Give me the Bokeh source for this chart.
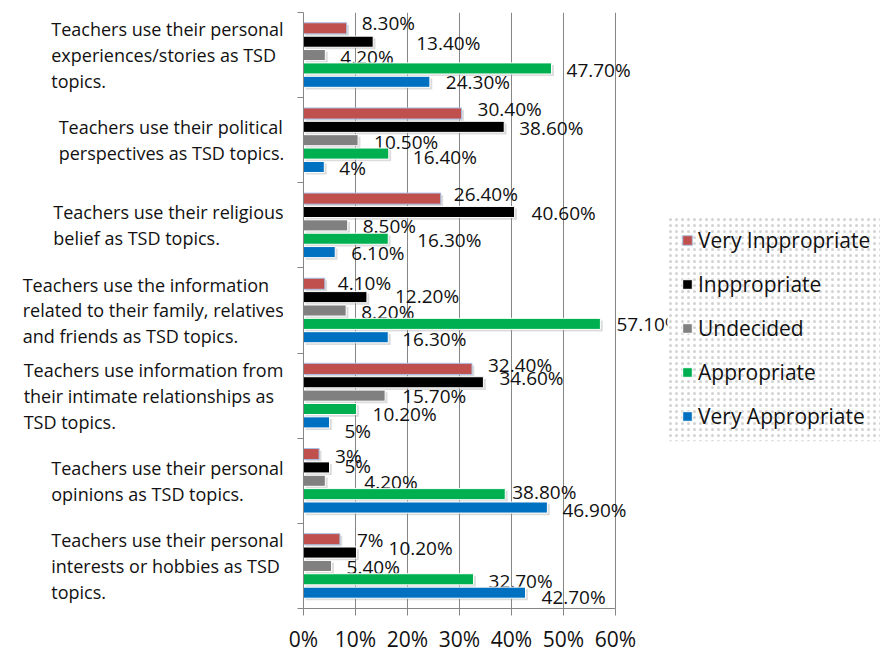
from bokeh.plotting import figure
from bokeh.layouts import row
from bokeh.models import (ColumnDataSource, FixedTicker, PrintfTickFormatter, Legend,
                          LegendItem, BoxAnnotation, Range1d)
from bokeh.transform import dodge
from bokeh.core.properties import value
from bokeh.embed import file_html
from bokeh.resources import INLINE

# ---------------- data ----------------
categories = [
    "Teachers use their personal\nexperiences/stories as TSD\ntopics.",
    "Teachers use their political\nperspectives as TSD topics.",
    "Teachers use their religious\nbelief as TSD topics.",
    "Teachers use the information\nrelated to their family, relatives\nand friends as TSD topics.",
    "Teachers use information from\ntheir intimate relationships as\nTSD topics.",
    "Teachers use their personal\nopinions as TSD topics.",
    "Teachers use their personal\ninterests or hobbies as TSD\ntopics.",
]
series_names = ["Very Inppropriate", "Inppropriate", "Undecided", "Appropriate", "Very Appropriate"]
very_inappropriate = [8.3, 30.4, 26.4, 4.1, 32.4, 3, 7]
inappropriate = [13.4, 38.6, 40.6, 12.2, 34.6, 5, 10.2]
undecided = [4.2, 10.5, 8.5, 8.2, 15.7, 4.2, 5.4]
appropriate = [47.7, 16.4, 16.3, 57.1, 10.2, 38.8, 32.7]
very_appropriate = [24.3, 4, 6.1, 16.3, 5, 46.9, 42.7]
x_ticks = [0, 10, 20, 30, 40, 50, 60]

series_values = [very_inappropriate, inappropriate, undecided, appropriate, very_appropriate]

# ---------------- styling ----------------
colors = ["#C0504D", "#000000", "#808080", "#00B050", "#0070C0"]
outline = ["#A9C1E4", "white", "white", "white", "white"]
# data-label nudges in screen px (as the labels were placed in the original chart)
label_dx = [[15, 16, 13, 13, 16, 16, 17],
            [43, 15, 17, 28, 16, 15, 32],
            [15, 16, 15, 15, 17, 39, 15],
            [15, 24, 29, 16, 16, 7, 15],
            [16, 15, 16, 14, 15, 15, 16]]
label_dy = [[-5, -4, -4.5, -1, -4, 1.5, 1],
            [1, 1, 1.5, -1, -4, -1, -5],
            [2, 1.5, 1, 1, 0, 1.5, 1],
            [1.5, 3, 1.7, 0.5, 5, -2.5, 1.5],
            [0.5, 1.5, 0.5, 2, 9, 2, 4.5]]

FONT = "Open Sans"
n = len(categories)
PX_PER_UNIT = 5.2          # 52 px per 10 %
FRAME_W = 577
FRAME_H = 596
TOP = 12
LABEL_W = 283              # width of the category-label column
CAT_SIZE = 18              # px

# approximate Open Sans advance widths (units per em = 2048), used to left-align
# the lines of each category label inside a right-aligned block
ADV = {" ": 532, "a": 1139, "b": 1255, "c": 975, "d": 1255, "e": 1149, "f": 694,
       "g": 1122, "h": 1257, "i": 518, "l": 518, "m": 1905, "n": 1257, "o": 1237,
       "p": 1255, "r": 836, "s": 977, "t": 723, "u": 1257, "v": 1026, "w": 1593,
       "x": 1073, "y": 1028, "T": 1112, "S": 1094, "D": 1442, ",": 497, ".": 545, "/": 752}

def text_width(s, size):
    return sum(ADV.get(ch, 1150) for ch in s) / 2048 * size

def fmt(v):
    return f"{int(v)}%" if float(v).is_integer() else f"{v:.2f}%"

y_range = Range1d(0, n)
centers = [n - 0.5 - i for i in range(n)]

# ---------------- category label column ----------------
left = figure(frame_width=LABEL_W, frame_height=FRAME_H, output_backend="svg",
              toolbar_location=None, x_range=Range1d(0, LABEL_W), y_range=y_range,
              min_border_left=0, min_border_right=0, min_border_top=TOP, min_border_bottom=45,
              x_axis_type=None, y_axis_type=None)
left.outline_line_color = None
left.grid.visible = False
block_left = [LABEL_W - max(text_width(line, CAT_SIZE) for line in cat.split("\n")) for cat in categories]
left.text(x=block_left, y=centers, text=categories, text_align="left", text_baseline="middle",
          text_font=value(FONT), text_font_size=f"{CAT_SIZE}px", text_line_height=1.08,
          text_color="#111111")

# ---------------- main chart ----------------
p = figure(frame_width=FRAME_W, frame_height=FRAME_H, output_backend="svg", toolbar_location=None,
           x_range=Range1d(0, FRAME_W / PX_PER_UNIT), y_range=y_range,
           min_border_left=20, min_border_right=0, min_border_top=TOP, min_border_bottom=0)
p.outline_line_color = None
p.background_fill_color = "white"
p.border_fill_color = "white"

bar_h = 0.13
pitch = 0.157
items = []
for k, (name, vals) in enumerate(zip(series_names, series_values)):
    ys = [c + (2 - k) * pitch for c in centers]
    src = ColumnDataSource(dict(y=ys, v=vals, lab=[fmt(v) for v in vals],
                                dx=label_dx[k], dy=label_dy[k]))
    # soft shadow
    p.hbar(y=dodge("y", -0.025), left=0.4, right=dodge("v", 0.45), height=bar_h, source=src,
           fill_color="#9a9a9a", fill_alpha=0.35, line_color=None)
    r = p.hbar(y="y", left=0, right="v", height=bar_h, source=src,
               fill_color=colors[k], line_color=outline[k], line_width=1)
    p.text(x="v", y="y", text="lab", source=src, x_offset="dx", y_offset="dy",
           text_baseline="middle", text_align="left", text_font=value(FONT),
           text_font_size="19px", text_color="#111111")
    items.append(LegendItem(label=name, renderers=[r]))

# x axis
p.xaxis.ticker = FixedTicker(ticks=x_ticks)
p.xaxis.bounds = (0, 60)
p.xaxis.formatter = PrintfTickFormatter(format="%d%%")
p.xaxis.major_tick_out = 7
p.xaxis.major_tick_in = 0
p.xaxis.minor_tick_line_color = None
p.xaxis.axis_line_color = "#868686"
p.xaxis.major_tick_line_color = "#868686"
p.xaxis.major_label_text_font = FONT
p.xaxis.major_label_text_font_size = "21px"
p.xaxis.major_label_text_color = "#111111"
p.xaxis.major_label_standoff = 9

# y axis: only tick marks at the group boundaries
p.yaxis.ticker = FixedTicker(ticks=[], minor_ticks=list(range(n + 1)))
p.yaxis.minor_tick_out = 6
p.yaxis.minor_tick_in = 0
p.yaxis.axis_line_color = "#868686"
p.yaxis.minor_tick_line_color = "#868686"

p.xgrid.ticker = FixedTicker(ticks=x_ticks)
p.xgrid.grid_line_color = "#868686"
p.ygrid.visible = False

# dotted legend background (covers the part of the frame right of the chart)
bg = BoxAnnotation(left=70, top=n - 203 / 85, bottom=n - 428 / 85,
                   fill_color="white", fill_alpha=1.0, line_color=None,
                   hatch_pattern="dot", hatch_color="#d2d2d2", hatch_scale=6, hatch_weight=1.2)
p.add_layout(bg)

legend = Legend(items=items, location=(368, 168), orientation="vertical",
                label_text_font=FONT, label_text_font_size="21px", label_text_color="#111111",
                glyph_width=12, glyph_height=12, label_height=27, spacing=16, padding=10,
                label_standoff=5, background_fill_alpha=0, border_line_alpha=0, margin=0)
p.add_layout(legend)

layout = row(left, p)
open("out.html", "w").write(file_html(layout, INLINE))
